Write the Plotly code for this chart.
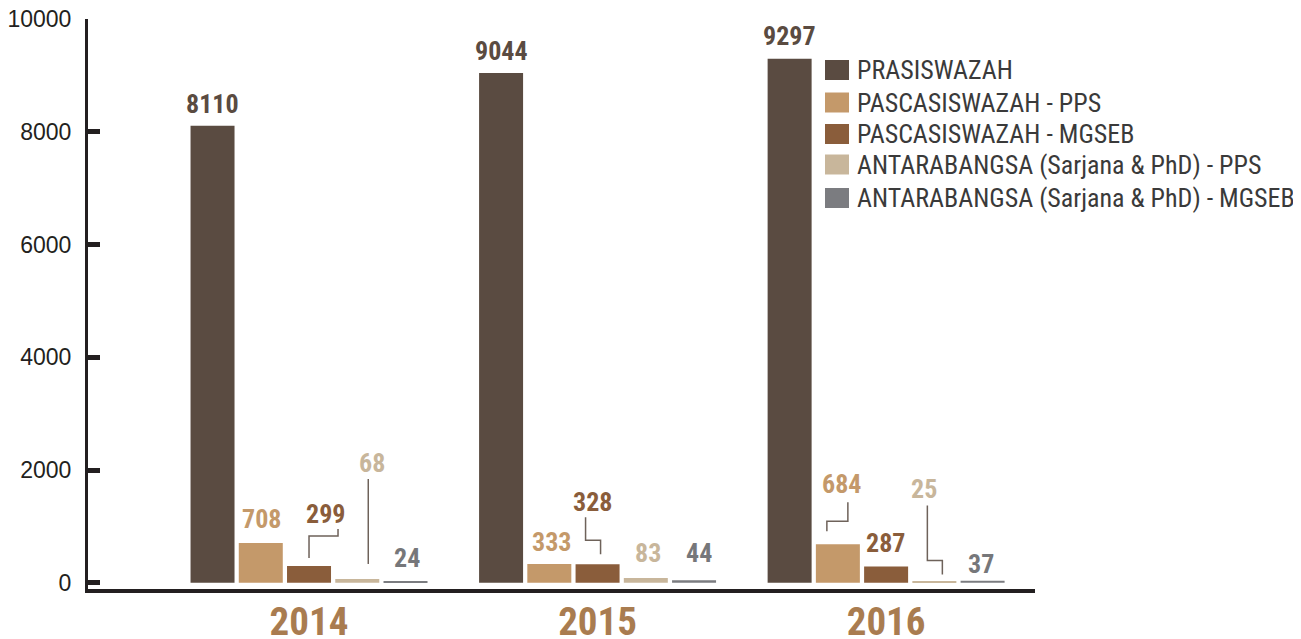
import plotly.graph_objects as go

# ---------------- data ----------------
years = ["2014", "2015", "2016"]
series_names = [
    "PRASISWAZAH",
    "PASCASISWAZAH - PPS",
    "PASCASISWAZAH - MGSEB",
    "ANTARABANGSA (Sarjana & PhD) - PPS",
    "ANTARABANGSA (Sarjana & PhD) - MGSEB",
]
prasiswazah = [8110, 9044, 9297]
pasca_pps = [708, 333, 684]
pasca_mgseb = [299, 328, 287]
antara_pps = [68, 83, 25]
antara_mgseb = [24, 44, 37]
y_ticks = [0, 2000, 4000, 6000, 8000, 10000]
y_tick_labels = ["0", "2000", "4000", "6000", "8000", "10000"]

series_values = [prasiswazah, pasca_pps, pasca_mgseb, antara_pps, antara_mgseb]

# ---------------- styles / layout ----------------
bar_colors = ["#5a4b41", "#c4996a", "#8a5d3b", "#c8b69b", "#7b7c80"]
label_colors = ["#5a4b41", "#c4996a", "#8a5d3b", "#c8b69b", "#76777a"]
axis_color = "#231f20"
year_color = "#a97c50"
leader_color = "#6e625a"
legend_text_color = "#3a3a3a"
narrow = "Liberation Sans Narrow, Roboto Condensed, DejaVu Sans Condensed, Arial Narrow, sans-serif"

# page body has an 8px margin; figure sized accordingly
W, H = 1293, 631
ML, MR, MT, MB = 80, 266, 11, 50
PW, PH = W - ML - MR, H - MT - MB

bargap = 0.164
bargroupgap = 0.088
slot = (1 - bargap) / len(series_names)

# label offsets (pixels): (dx, dy upward) of label centre from bar top centre
label_offsets = [
    [(0, 22), (0, 22), (0, 23)],
    [(1, 24), (2, 22), (4, 60)],
    [(16, 52), (-5, 62), (-1, 24)],
    [(15, 116), (2, 25), (-10, 92)],
    [(1, 23), (5, 27), (-2, 17)],
]
# leader lines (pixels relative to bar top centre, y upward)
leaders = {
    (2, 0): [(0, 8), (0, 30), (29, 30), (29, 37)],
    (3, 0): [(11, 15), (11, 100)],
    (2, 1): [(-12, 47), (-12, 24), (3, 24), (3, 10)],
    (1, 2): [(10, 42), (10, 23), (-11, 23), (-11, 13)],
    (3, 2): [(-7, 76), (-7, 21), (8, 21), (8, 7)],
}

# legend placement (pixels within figure)
legend_swatch_x = 817
legend_text_x = 847
legend_rows_y = [62, 94.5, 126, 156.5, 190]
swatch_w, swatch_h = 24, 20


def px_x(p):
    return (p - ML) / PW


def px_y(p):
    return (MT + PH - p) / PH


x_idx = list(range(len(years)))

fig = go.Figure()
for i, (name, vals) in enumerate(zip(series_names, series_values)):
    fig.add_trace(go.Bar(
        x=x_idx, y=vals, name=name, marker_color=bar_colors[i],
        marker_line_width=0, showlegend=False,
        hovertemplate=name + "<br>%{customdata}: %{y}<extra></extra>",
        customdata=years,
    ))

annotations = []
shapes = []
for i, vals in enumerate(series_values):
    off = (i - (len(series_names) - 1) / 2) * slot
    for j, v in enumerate(vals):
        xc = x_idx[j] + off
        dx, dy = label_offsets[i][j]
        annotations.append(dict(
            x=xc, y=v, xref="x", yref="y", text=f"<b>{v}</b>", showarrow=False,
            xshift=dx, yshift=dy, xanchor="center", yanchor="middle",
            font=dict(family=narrow, size=26, color=label_colors[i]),
        ))
        if (i, j) in leaders:
            pts = leaders[(i, j)]
            path = "M" + " L".join(f"{px},{py}" for px, py in pts)
            shapes.append(dict(
                type="path", path=path, xref="x", yref="y",
                xsizemode="pixel", ysizemode="pixel", xanchor=xc, yanchor=v,
                line=dict(color=leader_color, width=1.5),
            ))

# legend (swatches + text)
for i, name in enumerate(series_names):
    yc = legend_rows_y[i]
    shapes.append(dict(
        type="rect", xref="paper", yref="paper",
        x0=px_x(legend_swatch_x), x1=px_x(legend_swatch_x + swatch_w),
        y0=px_y(yc + swatch_h / 2), y1=px_y(yc - swatch_h / 2),
        fillcolor=bar_colors[i], line=dict(width=0),
    ))
    annotations.append(dict(
        x=px_x(legend_text_x), y=px_y(yc), xref="paper", yref="paper",
        text=name, showarrow=False, xanchor="left", yanchor="middle",
        font=dict(family=narrow, size=26, color=legend_text_color),
    ))

fig.update_layout(
    width=W, height=H,
    margin=dict(l=ML, r=MR, t=MT, b=MB, pad=0),
    paper_bgcolor="white", plot_bgcolor="white",
    barmode="group", bargap=bargap, bargroupgap=bargroupgap,
    annotations=annotations, shapes=shapes, showlegend=False,
    xaxis=dict(
        range=[-0.766, 2.516], tickmode="array", tickvals=x_idx, ticktext=years,
        showline=True, linecolor=axis_color, linewidth=4, ticks="",
        showgrid=False, zeroline=False, ticklabelstandoff=-5, automargin=False,
        tickfont=dict(family=narrow, size=39, color=year_color, weight="bold"),
    ),
    yaxis=dict(
        range=[-110, 10002], tickmode="array", tickvals=y_ticks, ticktext=y_tick_labels,
        showline=True, linecolor=axis_color, linewidth=3,
        ticks="inside", ticklen=12, tickwidth=5, tickcolor=axis_color,
        showgrid=False, zeroline=False, ticklabelstandoff=9, automargin=False,
        ticklabeloverflow="allow",
        tickfont=dict(family="Liberation Sans, Arial, sans-serif", size=23, color=axis_color),
    ),
)

fig.write_html("out.html")
